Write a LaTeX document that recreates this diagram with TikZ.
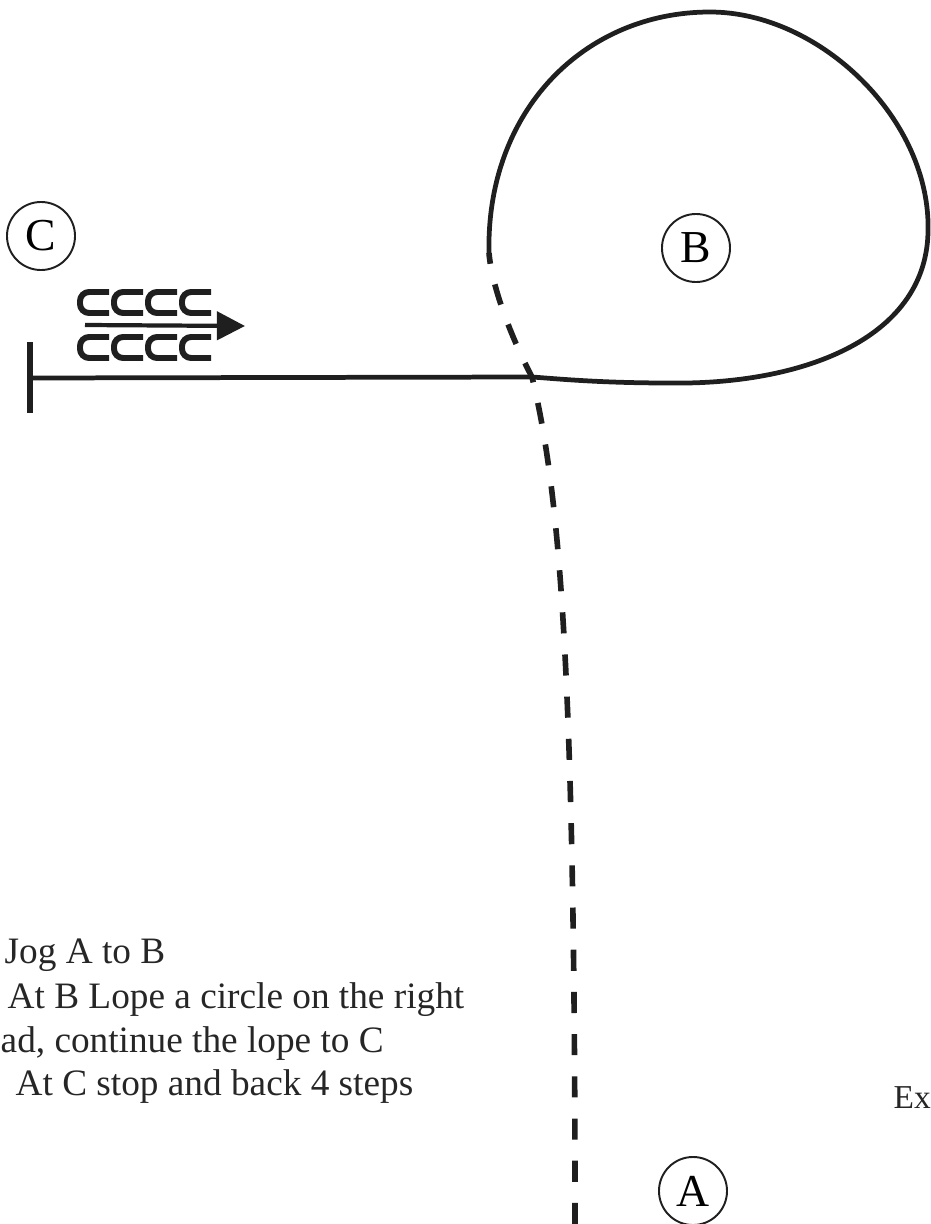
\documentclass[tikz,border=0pt]{standalone}
\usepackage{fontspec}
\setmainfont{Liberation Serif}
\usepackage{tikz}
\usetikzlibrary{arrows.meta}

\begin{document}
\begin{tikzpicture}[x=0.01cm,y=-0.01cm,
    track/.style={line width=1.35pt,black!88},
    jogline/.style={line width=1.6pt,black!88,dash pattern=on 6pt off 6pt},
    station/.style={circle,draw=black!88,line width=0.55pt,minimum size=0.68cm,inner sep=0pt,font=\fontsize{13}{13}\selectfont},
    caption/.style={anchor=base west,inner sep=0pt,font=\fontsize{10.6}{12}\selectfont,black!85},
    backc/.style={line width=1.7pt,black!88,rounded corners=2.6pt}]
  \useasboundingbox (0,0) rectangle (931,1224);
  \clip (0,0) rectangle (931,1224);

  % Path points
  \coordinate (start) at (575,1224);
  \coordinate (cross) at (532,377);
  \coordinate (loop) at (489,253);
  \coordinate (stop) at (30,378);

  % Jog A to B
  \draw[jogline] (start) .. controls (575,700) and (562,500) .. (cross)
      .. controls (515,345) and (492,290) .. (loop);
  % Lope the circle, then on to C
  \draw[track] (loop) .. controls (486,110) and (585,12) .. (710,12)
      .. controls (820,12) and (932,120) .. (928,233)
      .. controls (925,340) and (800,385) .. (670,383)
      .. controls (600,383) and (560,379) .. (cross) -- (stop);
  \draw[line width=1.6pt,black!88] (stop) ++(0,-36) -- ++(0,71);

  % Back 4 steps
  \foreach \i in {0,...,3} {
    \draw[backc] (109+34*\i,292) -- (80+34*\i,292) -- (80+34*\i,313) -- (109+34*\i,313);
    \draw[backc] (109+34*\i,337) -- (80+34*\i,337) -- (80+34*\i,358) -- (109+34*\i,358);
  }
  \coordinate (backfrom) at (85,325);
  \coordinate (backto) at (245,326);
  \draw[line width=1.2pt,black!88,-{Triangle[length=8pt,width=8pt]}] (backfrom) -- (backto);

  % Markers
  \node[station] (C) at (41,236) {C};
  \node[station] (B) at (696,248) {B};
  \node[station] (A) at (693,1191) {A};

  % Pattern text
  \node[caption] (jog) at (4,963) {Jog A to B};
  \node[caption] (lope) at (7,1008) {At B Lope a circle on the right};
  \node[caption] (lead) at (0,1052) {ad, continue the lope to C};
  \node[caption] (back) at (15,1095) {At C stop and back 4 steps};
  \node[anchor=base west,inner sep=0pt,font=\fontsize{9.5}{11}\selectfont,black!85] (ex) at (893,1108) {Ex};
\end{tikzpicture}
\end{document}
